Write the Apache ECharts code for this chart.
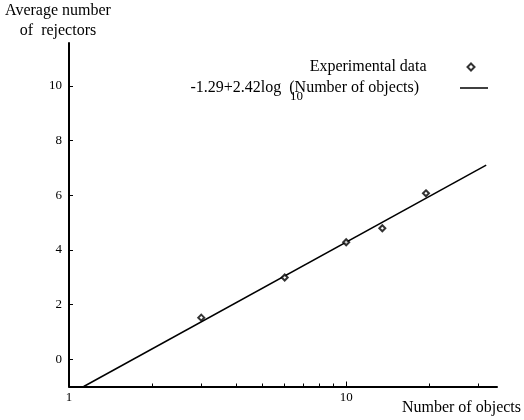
<!DOCTYPE html>
<html><head><meta charset="utf-8">
<script src="https://cdn.jsdelivr.net/npm/echarts@6/dist/echarts.min.js"></script>
<style>html,body{margin:0;padding:0;background:#fff}#c{width:524px;height:420px}</style>
</head><body><div id="c"></div>
<script>
// Data
const objects   = [3, 6, 10, 13.5, 19.4];
const rejectors = [1.52, 2.99, 4.28, 4.79, 6.07];
// Fitted line endpoints (as drawn)
const fitX = [1.13, 32];
const fitY = [-1, 7.1];
const yTickValues = [0, 2, 4, 6, 8, 10];
const xMajorTicks = [1, 10];
const xMinorTicks = [2, 3, 4, 5, 6, 7, 8, 9, 20, 30];
const scatterName = 'Experimental data';
const fitName = '-1.29+2.42log  (Number of objects)';
const fitSubscript = '10';

const font = 'Liberation Serif';
const xMin = 1, xMax = 35, yMin = -1, yMax = 11.57;

const scatterData = objects.map((x, i) => [x, rejectors[i]]);
const fitData = fitX.map((x, i) => [x, fitY[i]]);

const helperAxis = (ticks, len) => ({
  type: 'value', min: Math.log10(xMin), max: Math.log10(xMax), position: 'bottom',
  axisLine: { show: false, onZero: false },
  axisLabel: { show: false },
  splitLine: { show: false },
  axisTick: { show: true, inside: true, length: len, customValues: ticks.map(Math.log10),
              lineStyle: { color: '#000', width: 1 } }
});

const chart = echarts.init(document.getElementById('c'), null, { renderer: 'canvas' });
chart.setOption({
  animation: false,
  backgroundColor: '#fff',
  textStyle: { fontFamily: font },
  grid: { left: 69, right: 26, top: 43, bottom: 33.5, containLabel: false },
  xAxis: [
    {
      type: 'log', logBase: 10, min: xMin, max: xMax, position: 'bottom',
      axisLine: { onZero: false, lineStyle: { color: '#000', width: 2 } },
      axisTick: { show: false },
      minorTick: { show: false },
      splitLine: { show: false },
      axisLabel: { color: '#000', fontSize: 13, fontFamily: font, margin: 5, showMaxLabel: false },
      name: 'Number of objects', nameLocation: 'end', nameGap: 24,
      nameTextStyle: { color: '#000', fontSize: 16, fontFamily: font, align: 'right',
                       verticalAlign: 'top', padding: [13, 0, 0, 0] }
    },
    helperAxis(xMinorTicks, 3),
    helperAxis(xMajorTicks, 5)
  ],
  yAxis: {
    type: 'value', min: yMin, max: yMax,
    axisLine: { show: true, onZero: false, lineStyle: { color: '#000', width: 2 } },
    axisTick: { show: true, inside: true, length: 4, customValues: yTickValues,
                lineStyle: { color: '#000', width: 1 } },
    axisLabel: { color: '#000', fontSize: 13, fontFamily: font, margin: 7, customValues: yTickValues },
    splitLine: { show: false },
    name: 'Average number\nof  rejectors', nameLocation: 'end', nameGap: 2.5,
    nameTextStyle: { color: '#000', fontSize: 16, lineHeight: 20, fontFamily: font,
                     align: 'center', verticalAlign: 'bottom', padding: [0, 22, 0, 0] }
  },
  legend: [
    {
      data: [{ name: scatterName, icon: 'emptyDiamond' }],
      orient: 'vertical', align: 'right', right: 48.5, top: 59, padding: 0,
      itemWidth: 7, itemHeight: 7, selectedMode: false,
      itemStyle: { borderWidth: 1 },
      textStyle: { color: '#000', fontSize: 16, fontFamily: font, padding: [0, 36, 0, 0] }
    },
    {
      data: [{ name: fitName, icon: 'rect' }],
      orient: 'vertical', align: 'right', right: 36, top: 80, padding: 0,
      itemWidth: 28, itemHeight: 1.5, selectedMode: false,
      itemStyle: { color: '#000' },
      textStyle: { color: '#000', fontSize: 16, fontFamily: font, padding: [0, 36, 0, 0] }
    }
  ],
  graphic: [
    { type: 'text', x: 290, y: 97, silent: true,
      style: { text: fitSubscript, fontSize: 13, fontFamily: font, fill: '#000',
               align: 'left', verticalAlign: 'middle' } }
  ],
  series: [
    {
      name: fitName, type: 'line', xAxisIndex: 0, data: fitData, symbol: 'none', z: 2,
      lineStyle: { color: '#000', width: 1.5 }, itemStyle: { color: '#000' }
    },
    {
      name: scatterName, type: 'scatter', xAxisIndex: 0, data: scatterData, z: 3,
      symbol: 'emptyDiamond', symbolSize: 6,
      itemStyle: { color: '#000', borderColor: '#000', borderWidth: 1 }
    }
  ]
});
</script>
</body></html>
